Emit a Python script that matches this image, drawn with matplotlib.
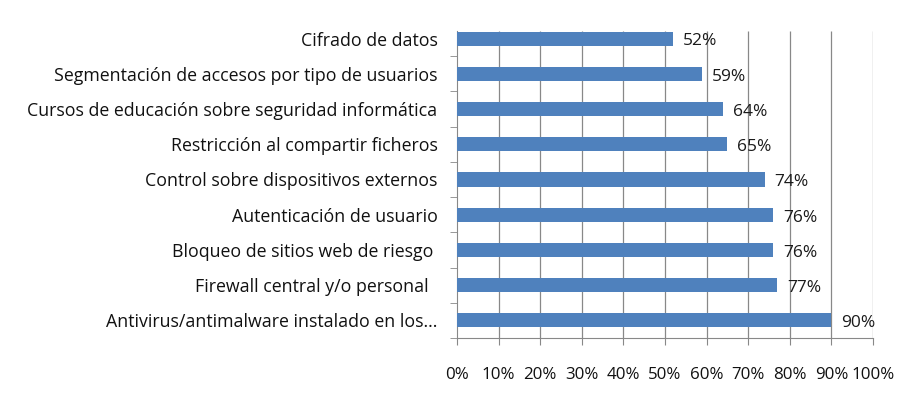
import matplotlib
matplotlib.use("Agg")
import matplotlib.pyplot as plt

categories = [
    "Cifrado de datos",
    "Segmentación de accesos por tipo de usuarios",
    "Cursos de educación sobre seguridad informática",
    "Restricción al compartir ficheros",
    "Control sobre dispositivos externos",
    "Autenticación de usuario",
    "Bloqueo de sitios web de riesgo ",
    "Firewall central y/o personal  ",
    "Antivirus/antimalware instalado en los...",
]
values = [52, 59, 64, 65, 74, 76, 76, 77, 90]
xticks = [0, 10, 20, 30, 40, 50, 60, 70, 80, 90, 100]
xticklabels = ["0%", "10%", "20%", "30%", "40%", "50%", "60%", "70%", "80%", "90%", "100%"]

plt.rcParams['font.family'] = ['Open Sans', 'DejaVu Sans']

fig = plt.figure(figsize=(9.19, 3.98), dpi=100)
ax = fig.add_axes([457/919, 1-338/398, (873-457)/919, (338-21)/398])

n = len(categories)
ypos = list(range(n))[::-1]
bar_color = "#4F81BD"
grid_color = "#888888"
ax.barh(ypos, values, height=0.4, color=bar_color, zorder=3)
for y, v in zip(ypos, values):
    ax.annotate(f"{v}%", (v, y), xytext=(7, -2), textcoords="offset points",
                va="center", ha="left", fontsize=12.5, color="#1a1a1a", zorder=4)

top = n - 0.5 - 0.28
ax.set_xlim(0, 100)
ax.set_ylim(-0.5, n - 0.5)
ax.vlines(xticks[1:], -0.5, top, color=grid_color, linewidth=0.9, zorder=0)
ax.set_xticks(xticks)
ax.set_xticklabels(xticklabels, fontsize=12.2)
ax.set_yticks(ypos)
ax.set_yticklabels(categories, fontsize=12.8, color="#111111")
ax.tick_params(axis='y', length=0, pad=14)
ax.set_yticks([i + 0.5 for i in range(-1, n - 1)], minor=True)
ax.tick_params(axis='y', which='minor', length=5, color=grid_color, direction='out')
ax.tick_params(axis='x', length=5, color=grid_color, pad=16, labelcolor="#111111")
for s in ['top', 'right']:
    ax.spines[s].set_visible(False)
for s in ['left', 'bottom']:
    ax.spines[s].set_color(grid_color)
ax.spines['left'].set_bounds(-0.5, top)

fig.savefig("out.png", dpi=100, facecolor="white")
